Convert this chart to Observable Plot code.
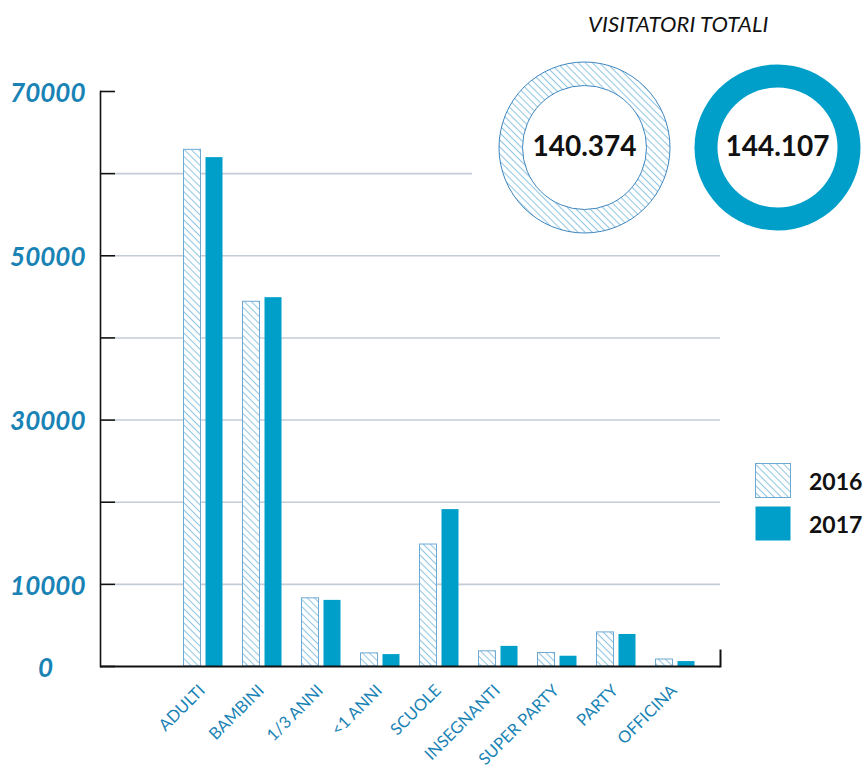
<!DOCTYPE html>
<html>
<head>
<meta charset="utf-8">
<script src="https://cdn.jsdelivr.net/npm/d3@7"></script>
<script src="https://cdn.jsdelivr.net/npm/@observablehq/plot@0.6"></script>
<style>
  html, body { margin: 0; padding: 0; background: #fff; }
  #wrap { position: relative; width: 868px; height: 769px; font-family: Lato, "Open Sans", sans-serif; }
  #wrap svg { position: absolute; left: 0; top: 0; }
  #title { position: absolute; left: 588px; top: 10px; font-size: 22px; font-style: italic; color: #111; letter-spacing: 0.1px; white-space: nowrap; }
  #legend { position: absolute; left: 755px; top: 459px; }
  .lg { display: flex; align-items: center; height: 43px; }
  .lg span { margin-left: 18px; font-size: 23px; font-weight: bold; color: #111; }
</style>
</head>
<body>
<div id="wrap">
  <div id="title">VISITATORI TOTALI</div>
  <div id="legend"></div>
</div>
<script>
// ---- data ----
const categories = ["ADULTI", "BAMBINI", "1/3 ANNI", "<1 ANNI", "SCUOLE", "INSEGNANTI", "SUPER PARTY", "PARTY", "OFFICINA"];
const values2016 = [62900, 44400, 8300, 1600, 14850, 1850, 1650, 4150, 850];
const values2017 = [61950, 44900, 8050, 1450, 19100, 2450, 1250, 3900, 600];
const years = ["2016", "2017"];
const totals = [140374, 144107];
const yTicks = [0, 10000, 20000, 30000, 40000, 50000, 60000, 70000];
const yTickLabels = [0, 10000, 30000, 50000, 70000];
const gridFull = [10000, 20000, 30000, 40000, 50000];
const gridShort = [60000];

const data2016 = categories.map((c, i) => ({category: c, value: values2016[i]}));
const data2017 = categories.map((c, i) => ({category: c, value: values2017[i]}));
const totalData = years.map((y, i) => ({year: y, total: totals[i]}));

const BLUE = "#009fc9";
const LABEL = "#1a83b5";
const HATCH_STROKE = "#6ea9d2";
const itFormat = d3.formatLocale({decimal: ",", thousands: ".", grouping: [3], currency: ["€", ""]}).format(",d");

// ---- main chart ----
const chart = Plot.plot({
  width: 868,
  height: 769,
  marginLeft: 100,
  marginRight: 148,
  marginTop: 91,
  marginBottom: 103,
  style: {fontFamily: "Lato, 'Open Sans', sans-serif", background: "transparent"},
  x: {type: "band", domain: categories, range: [172.5, 703.5], paddingInner: 0, paddingOuter: 0, axis: null},
  y: {domain: [0, 70000], axis: null},
  marks: [
    Plot.ruleY(gridFull, {stroke: "#c4ccd8", strokeWidth: 1.6, insetLeft: 15}),
    Plot.ruleY(gridShort, {stroke: "#c4ccd8", strokeWidth: 1.6, insetLeft: 15, insetRight: 248}),
    Plot.ruleY(yTicks, {stroke: "#111", strokeWidth: 1.6, insetRight: 605}),
    Plot.barY(data2016, {x: "category", y: "value", fill: "url(#hatch)", stroke: HATCH_STROKE, strokeWidth: 1, insetLeft: 10.5, insetRight: 31.5}),
    Plot.barY(data2017, {x: "category", y: "value", fill: BLUE, insetLeft: 32.5, insetRight: 9.5}),
    Plot.ruleY([0], {stroke: "#111", strokeWidth: 2}),
    Plot.frame({anchor: "left", stroke: "#111", strokeWidth: 1.6}),
    Plot.frame({anchor: "right", stroke: "#111", strokeWidth: 2, insetTop: 559}),
    Plot.text(yTickLabels.filter(d => d > 0), {y: d => d, text: d => String(d), frameAnchor: "left", textAnchor: "end", dx: -15, dy: 2, fontSize: 26, fontWeight: "bold", fontStyle: "italic", fill: LABEL}),
    Plot.text(yTickLabels.filter(d => d === 0), {y: d => d, text: d => String(d), frameAnchor: "left", textAnchor: "middle", dx: -55, dy: 2, fontSize: 26, fontWeight: "bold", fontStyle: "italic", fill: LABEL}),
    Plot.text(categories, {x: d => d, text: d => d, frameAnchor: "bottom", textAnchor: "end", rotate: -45, dx: 3, dy: 25, fontSize: 16.5, fill: LABEL})
  ]
});
chart.style.background = "transparent";

const defs = d3.select(chart).insert("defs", ":first-child");
const pat = defs.append("pattern")
  .attr("id", "hatch")
  .attr("patternUnits", "userSpaceOnUse")
  .attr("width", 5).attr("height", 5)
  .attr("patternTransform", "rotate(45)");
pat.append("rect").attr("width", 5).attr("height", 5).attr("fill", "#fff");
pat.append("line").attr("x1", 0).attr("y1", 0.5).attr("x2", 5).attr("y2", 0.5)
  .attr("stroke", "#93c7e3").attr("stroke-width", 1.1);

const wrap = document.getElementById("wrap");
wrap.insertBefore(chart, wrap.firstChild);

// ---- donuts ----
const donuts = Plot.plot({
  width: 868,
  height: 294,
  marginLeft: 0, marginRight: 0, marginTop: 0, marginBottom: 0,
  style: {fontFamily: "Lato, 'Open Sans', sans-serif", background: "transparent"},
  x: {type: "point", domain: years, range: [584, 777], padding: 0, axis: null},
  marks: [
    Plot.dot(totalData.filter(d => d.year === "2016"), {x: "year", r: 85.5, fill: "url(#hatch)", stroke: "#3f87c0", strokeWidth: 1}),
    Plot.dot(totalData.filter(d => d.year === "2016"), {x: "year", r: 62, fill: "#fff", stroke: "#3f87c0", strokeWidth: 1}),
    Plot.dot(totalData.filter(d => d.year === "2017"), {x: "year", r: 83, fill: BLUE}),
    Plot.dot(totalData.filter(d => d.year === "2017"), {x: "year", r: 60, fill: "#fff"}),
    Plot.text(totalData, {x: "year", text: d => itFormat(d.total), fontSize: 28, fontWeight: "bold", fill: "#111"})
  ]
});
donuts.style.background = "transparent";
donuts.style.pointerEvents = "none";
wrap.appendChild(donuts);

// ---- legend ----
const legend = document.getElementById("legend");
years.forEach((y, i) => {
  const row = document.createElement("div");
  row.className = "lg";
  const fill = i === 0 ? "url(#hatch)" : BLUE;
  const stroke = i === 0 ? HATCH_STROKE : "none";
  row.innerHTML = `<svg width="36" height="35" style="position:static"><rect x="0.5" y="0.5" width="35" height="34" fill="${fill}" stroke="${stroke}"/></svg><span>${y}</span>`;
  legend.appendChild(row);
});
</script>
</body>
</html>
